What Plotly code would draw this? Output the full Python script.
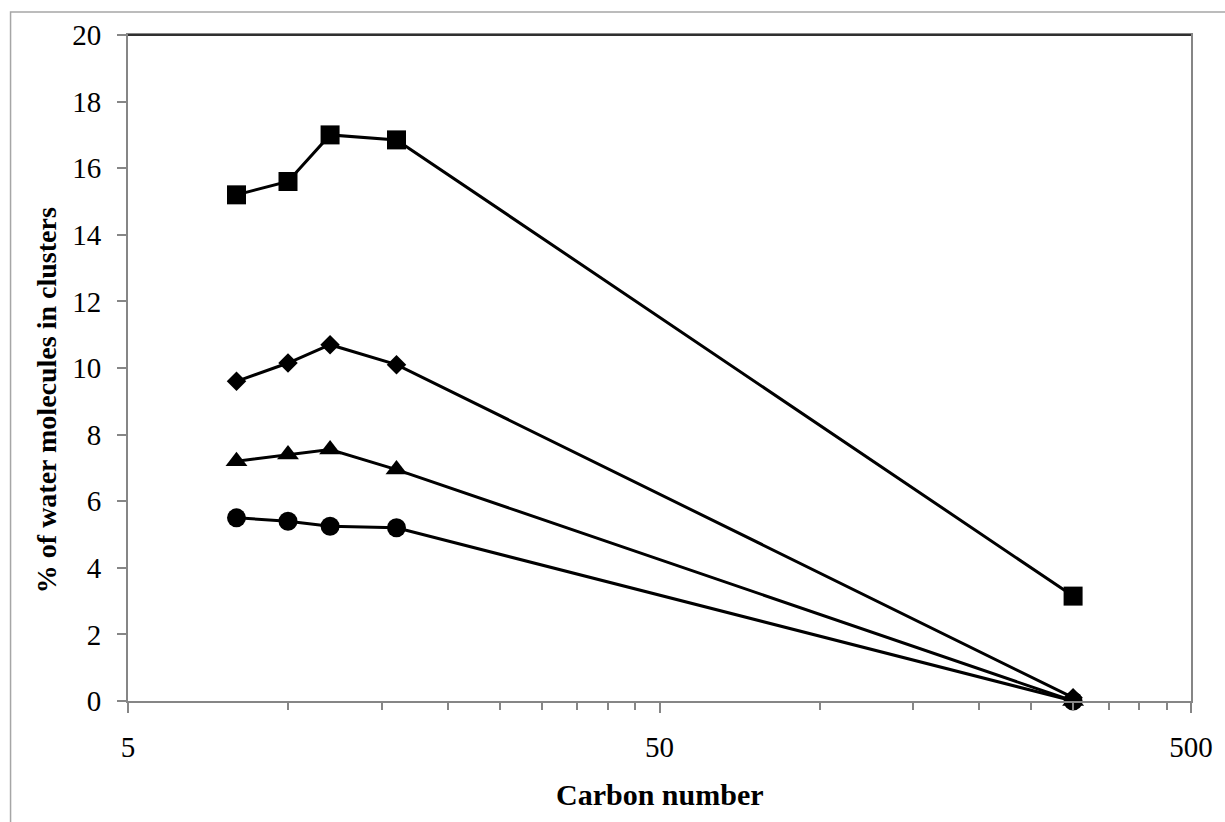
import plotly.graph_objects as go

# Carbon number of each simulated alkane
carbon = [8, 10, 12, 16, 300]

# % of water molecules found in clusters, one series per marker shape
pct_square = [15.2, 15.6, 17.0, 16.85, 3.15]
pct_diamond = [9.6, 10.15, 10.7, 10.1, 0.1]
pct_triangle = [7.2, 7.4, 7.55, 6.95, 0.0]
pct_circle = [5.5, 5.4, 5.25, 5.2, 0.0]

series = [
    ("square", pct_square, "square", 19),
    ("diamond", pct_diamond, "diamond", 15),
    ("triangle", pct_triangle, "triangle-up", 19),
    ("circle", pct_circle, "circle", 19),
]

x_major = [5, 50, 500]
x_minor = [m * k for m in (5, 50) for k in range(2, 10)]
y_ticks = list(range(0, 21, 2))

FONT = "Liberation Serif, Times New Roman, serif"
AXIS_GREY = "#868686"

fig = go.Figure()
for name, vals, sym, size in series:
    fig.add_trace(go.Scatter(
        x=carbon, y=vals, name=name, mode="lines+markers",
        line=dict(color="black", width=3),
        marker=dict(symbol=sym, size=size, color="black", line=dict(width=0)),
        cliponaxis=False,
    ))

fig.update_layout(
    width=1225, height=822,
    margin=dict(l=128, r=29, t=35, b=121),
    paper_bgcolor="white", plot_bgcolor="white",
    showlegend=False,
    font=dict(family=FONT, color="black", size=29),
    xaxis=dict(
        type="log", range=[0.69897, 2.69897],
        tickmode="array", tickvals=x_major, ticktext=[str(v) for v in x_major],
        ticks="outside", ticklen=10, tickcolor=AXIS_GREY, tickwidth=1.5,
        ticklabelstandoff=9,
        minor=dict(tickmode="array", tickvals=x_minor, ticks="outside",
                   ticklen=7, tickcolor=AXIS_GREY, tickwidth=1.5, showgrid=False),
        showgrid=False, zeroline=False,
        showline=True, linecolor=AXIS_GREY, linewidth=2, mirror=True,
        tickfont=dict(family=FONT, size=29),
    ),
    yaxis=dict(
        range=[0, 20], tickmode="array", tickvals=y_ticks,
        ticks="outside", ticklen=9, tickcolor=AXIS_GREY, tickwidth=1.5,
        ticklabelstandoff=10,
        showgrid=False, zeroline=False,
        showline=True, linecolor=AXIS_GREY, linewidth=2, mirror=True,
        tickfont=dict(family=FONT, size=29),
    ),
    annotations=[
        dict(text="<b>Carbon number</b>", xref="paper", yref="paper",
             x=0.5, y=-0.14, yanchor="middle", xanchor="center",
             showarrow=False, font=dict(family=FONT, size=30)),
        dict(text="<b>% of water molecules in clusters</b>", xref="paper", yref="paper",
             x=-0.076, y=0.452, textangle=-90, xanchor="center", yanchor="middle",
             showarrow=False, font=dict(family=FONT, size=28)),
    ],
    shapes=[
        # dark top edge of the plotting area
        dict(type="line", xref="paper", yref="paper", x0=0, x1=1, y0=1, y1=1,
             line=dict(color="#303030", width=2)),
        # outer chart frame
        dict(type="rect", xref="paper", yref="paper",
             x0=-118 / 1068, x1=1.2, y0=1 + 23 / 666, y1=-0.5,
             line=dict(color="#a6a6a6", width=1.5), layer="below"),
    ],
)

fig.write_html("out.html")
